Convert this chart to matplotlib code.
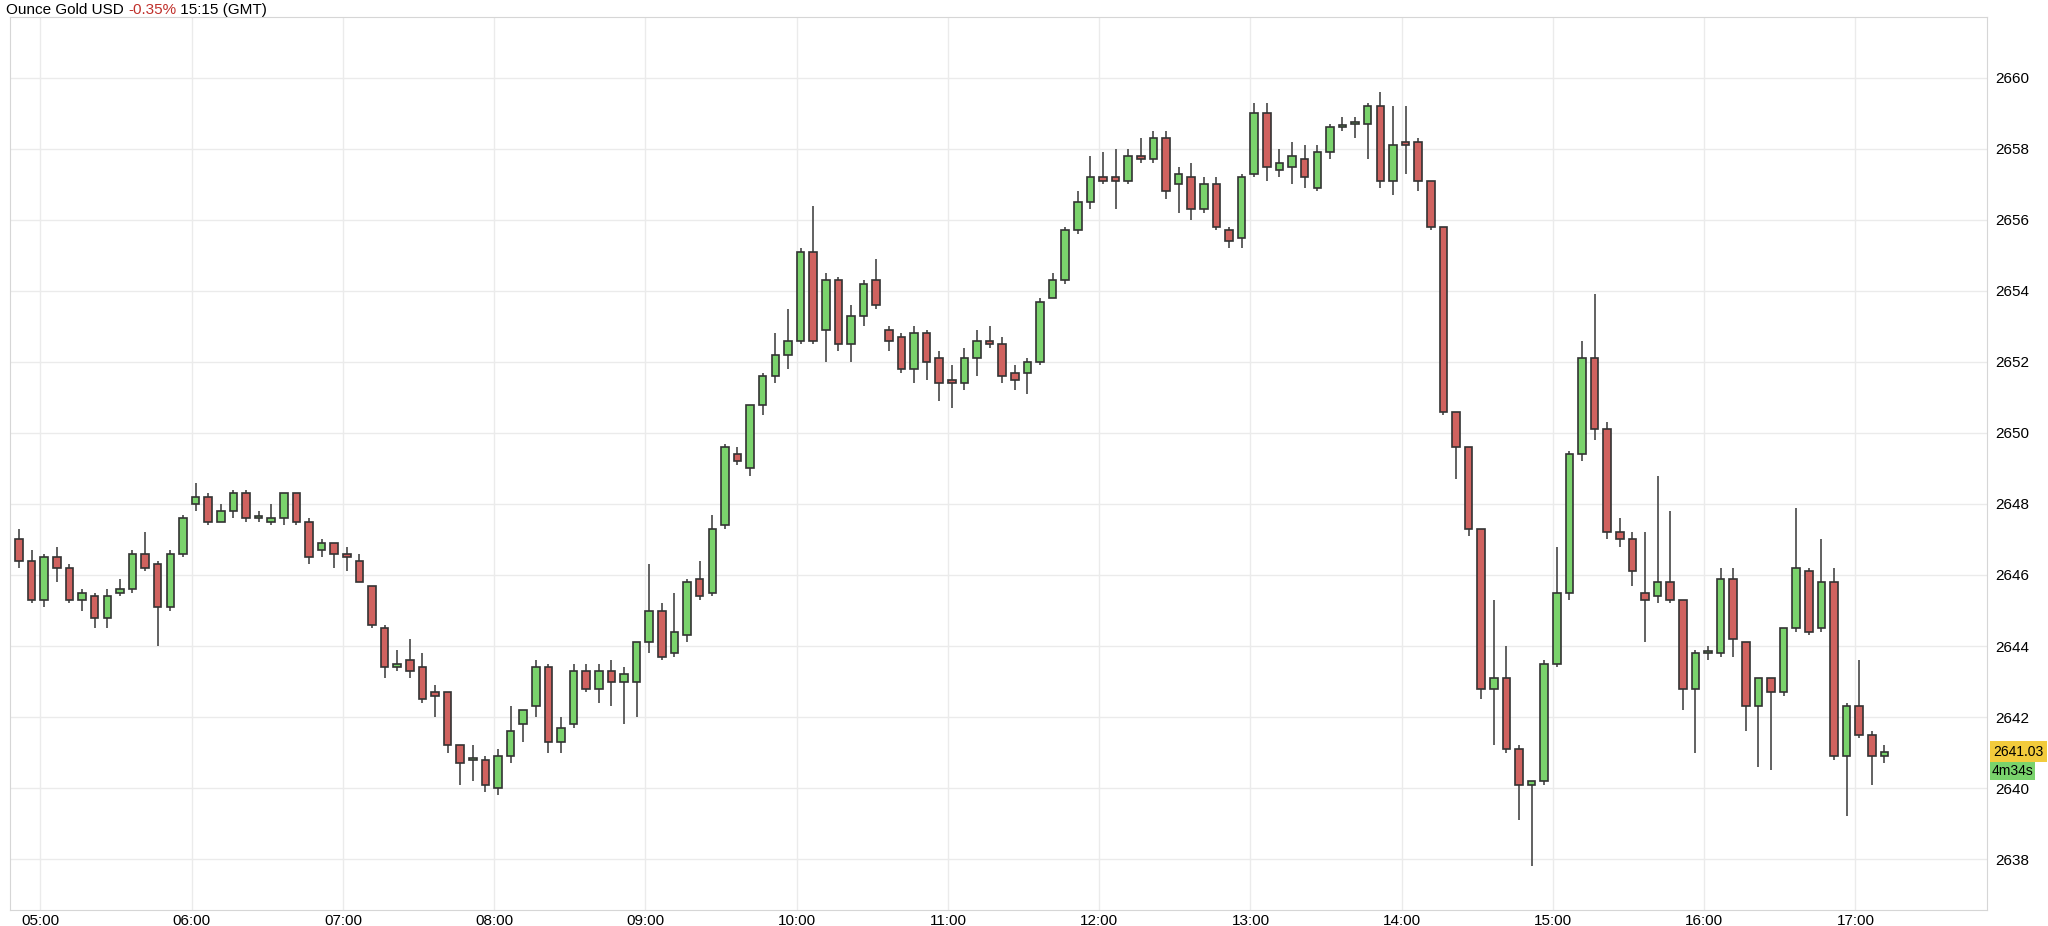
import matplotlib.pyplot as plt
import numpy as np

plt.rcParams['font.family'] = ['Liberation Sans', 'DejaVu Sans']

# 5-minute candles starting 04:50 GMT
opens = [2647.0, 2646.4, 2645.3, 2646.5, 2646.2, 2645.3, 2645.4, 2644.8, 2645.5, 2645.6,
         2646.6, 2646.3, 2645.1, 2646.6, 2648.0, 2648.2, 2647.5, 2647.8, 2648.3, 2647.6,
         2647.5, 2647.6, 2648.3, 2647.5, 2646.7, 2646.9, 2646.6, 2646.4, 2645.7, 2644.5,
         2643.4, 2643.6, 2643.4, 2642.7, 2642.7, 2641.2, 2640.8, 2640.8, 2640.0, 2640.9,
         2641.8, 2642.3, 2643.4, 2641.3, 2641.8, 2643.3, 2642.8, 2643.3, 2643.0, 2643.0,
         2644.1, 2645.0, 2643.8, 2644.3, 2645.9, 2645.5, 2647.4, 2649.4, 2649.0, 2650.8,
         2651.6, 2652.2, 2652.6, 2655.1, 2652.9, 2654.3, 2652.5, 2653.3, 2654.3, 2652.9,
         2652.7, 2651.8, 2652.8, 2652.1, 2651.5, 2651.4, 2652.1, 2652.6, 2652.5, 2651.7,
         2651.7, 2652.0, 2653.8, 2654.3, 2655.7, 2656.5, 2657.2, 2657.2, 2657.1, 2657.8,
         2657.7, 2658.3, 2657.0, 2657.2, 2656.3, 2657.0, 2655.7, 2655.5, 2657.3, 2659.0,
         2657.4, 2657.5, 2657.7, 2656.9, 2657.9, 2658.6, 2658.7, 2658.7, 2659.2, 2657.1,
         2658.2, 2658.2, 2657.1, 2655.8, 2650.6, 2649.6, 2647.3, 2642.8, 2643.1, 2641.1,
         2640.1, 2640.2, 2643.5, 2645.5, 2649.4, 2652.1, 2650.1, 2647.2, 2647.0, 2645.5,
         2645.4, 2645.8, 2645.3, 2642.8, 2643.8, 2643.8, 2645.9, 2644.1, 2642.3, 2643.1,
         2642.7, 2644.5, 2646.1, 2644.5, 2645.8, 2640.9, 2642.3, 2641.5, 2640.9]
closes = [2646.4, 2645.3, 2646.5, 2646.2, 2645.3, 2645.5, 2644.8, 2645.4, 2645.6, 2646.6,
          2646.2, 2645.1, 2646.6, 2647.6, 2648.2, 2647.5, 2647.8, 2648.3, 2647.6, 2647.6,
          2647.6, 2648.3, 2647.5, 2646.5, 2646.9, 2646.6, 2646.5, 2645.8, 2644.6, 2643.4,
          2643.5, 2643.3, 2642.5, 2642.6, 2641.2, 2640.7, 2640.8, 2640.1, 2640.9, 2641.6,
          2642.2, 2643.4, 2641.3, 2641.7, 2643.3, 2642.8, 2643.3, 2643.0, 2643.2, 2644.1,
          2645.0, 2643.7, 2644.4, 2645.8, 2645.4, 2647.3, 2649.6, 2649.2, 2650.8, 2651.6,
          2652.2, 2652.6, 2655.1, 2652.6, 2654.3, 2652.5, 2653.3, 2654.2, 2653.6, 2652.6,
          2651.8, 2652.8, 2652.0, 2651.4, 2651.4, 2652.1, 2652.6, 2652.5, 2651.6, 2651.5,
          2652.0, 2653.7, 2654.3, 2655.7, 2656.5, 2657.2, 2657.1, 2657.1, 2657.8, 2657.7,
          2658.3, 2656.8, 2657.3, 2656.3, 2657.0, 2655.8, 2655.4, 2657.2, 2659.0, 2657.5,
          2657.6, 2657.8, 2657.2, 2657.9, 2658.6, 2658.6, 2658.7, 2659.2, 2657.1, 2658.1,
          2658.1, 2657.1, 2655.8, 2650.6, 2649.6, 2647.3, 2642.8, 2643.1, 2641.1, 2640.1,
          2640.2, 2643.5, 2645.5, 2649.4, 2652.1, 2650.1, 2647.2, 2647.0, 2646.1, 2645.3,
          2645.8, 2645.3, 2642.8, 2643.8, 2643.8, 2645.9, 2644.2, 2642.3, 2643.1, 2642.7,
          2644.5, 2646.2, 2644.4, 2645.8, 2640.9, 2642.3, 2641.5, 2640.9, 2641.03]
highs = [2647.3, 2646.7, 2646.6, 2646.8, 2646.3, 2645.6, 2645.5, 2645.6, 2645.9, 2646.7,
         2647.2, 2646.4, 2646.7, 2647.7, 2648.6, 2648.3, 2648.0, 2648.4, 2648.4, 2647.8,
         2648.0, 2648.3, 2648.3, 2647.6, 2647.0, 2646.9, 2646.8, 2646.6, 2645.7, 2644.6,
         2643.9, 2644.2, 2643.8, 2642.9, 2642.7, 2641.2, 2641.2, 2640.9, 2641.1, 2642.3,
         2642.2, 2643.6, 2643.5, 2642.0, 2643.5, 2643.5, 2643.5, 2643.6, 2643.4, 2644.1,
         2646.3, 2645.2, 2645.5, 2645.9, 2646.4, 2647.7, 2649.7, 2649.6, 2650.8, 2651.7,
         2652.8, 2653.5, 2655.2, 2656.4, 2654.5, 2654.4, 2653.6, 2654.3, 2654.9, 2653.0,
         2652.8, 2653.0, 2652.9, 2652.3, 2651.9, 2652.4, 2652.9, 2653.0, 2652.7, 2651.9,
         2652.1, 2653.8, 2654.5, 2655.8, 2656.8, 2657.8, 2657.9, 2658.0, 2658.0, 2658.3,
         2658.5, 2658.5, 2657.5, 2657.6, 2657.2, 2657.2, 2655.8, 2657.3, 2659.3, 2659.3,
         2658.0, 2658.2, 2658.1, 2658.1, 2658.7, 2658.9, 2658.9, 2659.3, 2659.6, 2659.2,
         2659.2, 2658.3, 2657.1, 2655.8, 2650.6, 2649.6, 2647.3, 2645.3, 2644.0, 2641.2,
         2640.2, 2643.6, 2646.8, 2649.5, 2652.6, 2653.9, 2650.3, 2647.6, 2647.2, 2647.2,
         2648.8, 2647.8, 2645.3, 2643.9, 2644.0, 2646.2, 2646.2, 2644.1, 2643.1, 2643.1,
         2644.5, 2647.9, 2646.2, 2647.0, 2646.2, 2642.4, 2643.6, 2641.6, 2641.2]
lows = [2646.2, 2645.2, 2645.1, 2645.8, 2645.2, 2645.0, 2644.5, 2644.5, 2645.4, 2645.5,
        2646.1, 2644.0, 2645.0, 2646.5, 2647.8, 2647.4, 2647.5, 2647.6, 2647.5, 2647.5,
        2647.4, 2647.4, 2647.4, 2646.3, 2646.5, 2646.2, 2646.1, 2645.8, 2644.5, 2643.1,
        2643.3, 2643.1, 2642.4, 2642.0, 2641.0, 2640.1, 2640.2, 2639.9, 2639.8, 2640.7,
        2641.3, 2642.0, 2641.0, 2641.0, 2641.7, 2642.7, 2642.4, 2642.3, 2641.8, 2642.0,
        2643.8, 2643.6, 2643.7, 2644.1, 2645.3, 2645.4, 2647.3, 2649.1, 2648.8, 2650.5,
        2651.4, 2651.8, 2652.5, 2652.5, 2652.0, 2652.3, 2652.0, 2653.0, 2653.5, 2652.3,
        2651.7, 2651.4, 2651.5, 2650.9, 2650.7, 2651.2, 2651.6, 2652.4, 2651.4, 2651.2,
        2651.1, 2651.9, 2653.8, 2654.2, 2655.6, 2656.3, 2657.0, 2656.3, 2657.0, 2657.6,
        2657.6, 2656.6, 2656.2, 2656.0, 2656.2, 2655.7, 2655.2, 2655.2, 2657.2, 2657.1,
        2657.2, 2657.0, 2656.9, 2656.8, 2657.7, 2658.5, 2658.3, 2657.7, 2656.9, 2656.7,
        2657.3, 2656.8, 2655.7, 2650.5, 2648.7, 2647.1, 2642.5, 2641.2, 2641.0, 2639.1,
        2637.8, 2640.1, 2643.4, 2645.3, 2649.2, 2649.8, 2647.0, 2646.8, 2645.7, 2644.1,
        2645.2, 2645.2, 2642.2, 2641.0, 2643.6, 2643.7, 2643.7, 2641.6, 2640.6, 2640.5,
        2642.6, 2644.4, 2644.3, 2644.4, 2640.8, 2639.2, 2641.4, 2640.1, 2640.7]

hour_labels = ['05:00', '06:00', '07:00', '08:00', '09:00', '10:00', '11:00',
               '12:00', '13:00', '14:00', '15:00', '16:00', '17:00']
last_price = 2641.03
countdown = '4m34s'

fig = plt.figure(figsize=(20.48, 9.26), dpi=100)
ax = fig.add_axes([0.005, 0.017, 0.965, 0.965])

o = np.array(opens)
c = np.array(closes)
x = np.arange(len(o)) + 0.3
up = c >= o
colors = np.where(up, '#7ad36c', '#d0625f')

ax.vlines(x, lows, highs, color='#555555', linewidth=1.3, zorder=2)
body_bottom = np.minimum(o, c)
body_h = np.maximum(np.abs(c - o), 0.06)
ax.bar(x, body_h, bottom=body_bottom, width=0.6, color=colors,
       edgecolor='#333333', linewidth=1.2, zorder=3)

ymin, ymax = 2636.56, 2661.72
ax.set_ylim(ymin, ymax)
ax.set_xlim(-0.4, 156.4)

yt = np.arange(2638, 2661, 2)
ax.set_yticks(yt)
ax.set_yticklabels([str(v) for v in yt], fontsize=11)
for lbl, v in zip(ax.get_yticklabels(), yt):
    if v % 10 == 0:
        lbl.set_fontweight('bold')
ax.yaxis.tick_right()
ax.tick_params(axis='y', length=0, pad=6)

ax.set_xticks(np.arange(2, 2 + 12 * len(hour_labels), 12))
ax.set_xticklabels(hour_labels, fontsize=11)
ax.tick_params(axis='x', length=0, pad=3)

ax.grid(True, color='#ebebeb', linewidth=1)
ax.set_axisbelow(True)
for s in ax.spines.values():
    s.set_color('#d6d6d6')

ax.text(1.0035, (last_price - ymin) / (ymax - ymin), f'{last_price:.2f}',
        transform=ax.transAxes, fontsize=10, va='center', ha='left',
        bbox=dict(boxstyle='square,pad=0.25', fc='#f2cb3c', ec='none'))
ax.text(1.0025, (last_price - 0.55 - ymin) / (ymax - ymin), countdown,
        transform=ax.transAxes, fontsize=10, va='center', ha='left',
        bbox=dict(boxstyle='square,pad=0.12', fc='#7ad36c', ec='none'))

t1 = fig.text(0.003, 0.997, 'Ounce Gold USD ', fontsize=11, va='top', ha='left')
t2 = ax.annotate('-0.35%', xy=(1, 0), xycoords=t1, va='bottom', ha='left',
                 fontsize=11, color='#c0302b')
ax.annotate(' 15:15 (GMT)', xy=(1, 0), xycoords=t2, va='bottom', ha='left', fontsize=11)

fig.savefig('out.png')
